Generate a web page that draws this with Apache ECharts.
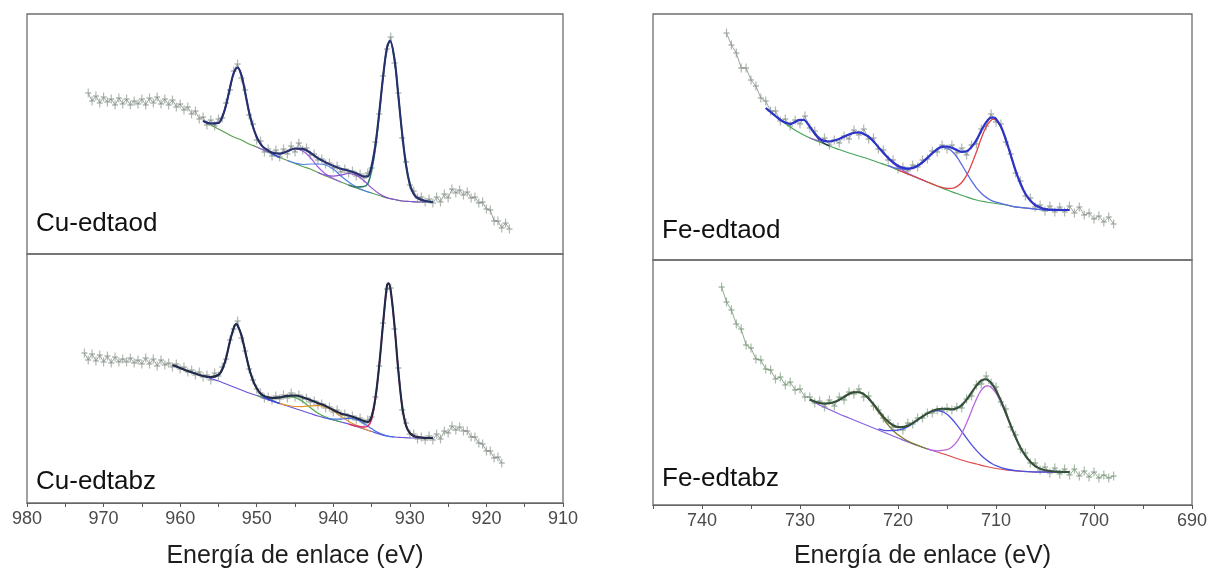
<!DOCTYPE html>
<html>
<head>
<meta charset="utf-8">
<script src="https://cdn.jsdelivr.net/npm/echarts@6/dist/echarts.min.js"></script>
<style>
  html, body { margin: 0; padding: 0; background: #fff; }
  #chart { width: 1211px; height: 574px; }
</style>
</head>
<body>
<div id="chart"></div>
<script>
// XPS spectra: Cu 2p (left) and Fe 2p (right), binding energy in eV, intensity in arbitrary units.

// ---------- Cu-edtaod ----------
const cuOdRaw = [[972,161],[971.5,153],[971,158],[970.5,151],[970,157],[969.5,152],[969,155],[968.5,149],[968,156],[967.5,150],[967,155],[966.5,149],[966,153],[965.5,150],[965,155],[964.5,149],[964,156],[963.5,151],[963,157],[962.5,150],[962,155],[961.5,149],[961,154],[960.5,147],[960,150],[959.5,144],[959,147],[958.5,140],[958,143],[957.5,135],[957,137],[956.5,129],[956,134],[955.5,128],[955,135],[954.5,136],[954,151],[953.5,164],[953,183],[952.5,190],[952,176],[951.5,164],[951,139],[950.5,130],[950,114],[949.5,113],[949,102],[948.5,105],[948,98],[947.5,104],[947,97],[946.5,105],[946,100],[945.5,108],[945,102],[944.5,111],[944,104],[943.5,106],[943,99],[942.5,100],[942,94],[941.5,95],[941,90],[940.5,91],[940,86],[939.5,88],[939,82],[938.5,85],[938,81],[937.5,83],[937,78],[936.5,80],[936,76],[935.5,81],[935,86],[934.5,112],[934,140],[933.5,178],[933,205],[932.5,217],[932,191],[931.5,161],[931,116],[930.5,92],[930,69],[929.5,63],[929,56],[928.5,57],[928,52],[927.5,55],[927,51],[926.5,57],[926,52],[925.5,60],[925,56],[924.5,65],[924,61],[923.5,64],[923,59],[922.5,62],[922,56],[921.5,57],[921,51],[920.5,52],[920,45],[919.5,44],[919,33],[918.5,33],[918,26],[917.5,31],[917,25]];
const cuOdBg = [[957,133],[956,129],[955,125],[954,121],[953,117],[952,114],[951,110],[950,107],[949,103.5],[948,100],[947,96.5],[946,93.5],[945,90.5],[944,87.5],[943,85],[942,81.5],[941,78],[940,75],[939,72],[938,69],[937,66],[936,63.5],[935,61],[934,58.5],[933,56],[932,54.5],[931,53],[930,52.5],[929,52],[928,52],[927,52]];
const cuOdP1 = [[957,133],[956,130.5],[955,131],[954.5,137],[954,149],[953.5,166],[953,181],[952.5,186.5],[952,179],[951.5,161],[951,142],[950.5,127.5],[950,117],[949.5,110],[949,106],[948,100.5],[947,96.5]];
const cuOdSat1 = [[950,107],[949,103.7],[948,101],[947,100.5],[946,102.5],[945,105],[944,103],[943,96.5],[942,87],[941,80],[940,75.5],[939,72]];
const cuOdSat2 = [[946,93.5],[945,91],[944,89.5],[943,90],[942,90],[941,89],[940,85],[939,78],[938,72],[937,67],[936,63.5],[935,61]];
const cuOdSat3 = [[942,81.5],[941,78.8],[940,77.9],[939,78.9],[938,80.5],[937,78.9],[936,73.3],[935,66.1],[934,60.3],[933,56.4],[932,54.5],[931,53],[930,52.5],[929,52],[928,52]];
const cuOdP3 = [[938,69],[937,67],[936,67.5],[935.5,70.2],[935,83],[934.5,105.8],[934,139.5],[933.5,176.2],[933,205.5],[932.6,213],[932,194.5],[931.5,157.8],[931,120],[930.5,88.8],[930,69.5],[929.5,60],[929,56],[928,53],[927,52]];
const cuOdFit = [[957,133],[956,130.5],[955,131],[954.5,137],[954,149],[953.5,166],[953,181],[952.5,186.5],[952,179],[951.5,161],[951,142],[950.5,127.5],[950,117],[949.5,110],[949,106],[948,101.5],[947,100.4],[946,102.8],[945,105.5],[944,105.1],[943,101.3],[942,95.8],[941,91.6],[940,88.1],[939,85.2],[938,83.3],[937,80.8],[936,77.5],[935.5,77.6],[935,88.1],[934.5,109],[934,141.3],[933.5,177.1],[933,205.9],[932.6,213.2],[932,194.5],[931.5,157.8],[931,120],[930.5,88.8],[930,69.5],[929.5,60],[929,56],[928,53],[927,52]];

// ---------- Cu-edtabz ----------
const cuBzRaw = [[972.5,150],[972,143],[971.5,149],[971,142],[970.5,148],[970,141],[969.5,147],[969,140],[968.5,146],[968,141],[967.5,144],[967,141],[966.5,145],[966,140],[965.5,143],[965,139],[964.5,145],[964,139],[963.5,144],[963,137],[962.5,143],[962,138],[961.5,140],[961,136],[960.5,139],[960,134],[959.5,136],[959,131],[958.5,133],[958,128],[957.5,131],[957,126],[956.5,128],[956,123],[955.5,130],[955,127],[954.5,136],[954,144],[953.5,163],[953,174],[952.5,182],[952,165],[951.5,152],[951,134],[950.5,123],[950,114],[949.5,110],[949,105],[948.5,106],[948,103],[947.5,107],[947,104],[946.5,108],[946,105],[945.5,110],[945,106],[944.5,108],[944,104],[943.5,105],[943,101],[942.5,102],[942,98],[941.5,99],[941,95],[940.5,96],[940,91],[939.5,93],[939,88],[938.5,89],[938,85],[937.5,87],[937,83],[936.5,85],[936,80],[935.5,83],[935,86],[934.5,106],[934,137],[933.5,180],[933,214],[932.5,215],[932,174],[931.5,135],[931,93],[930.5,80],[930,69],[929.5,69],[929,64],[928.5,66],[928,63],[927.5,67],[927,63],[926.5,69],[926,64],[925.5,72],[925,70],[924.5,77],[924,73],[923.5,76],[923,72],[922.5,72],[922,66],[921.5,66],[921,60],[920.5,59],[920,52],[919.5,52],[919,45],[918.5,46],[918,40]];
const cuBzBg = [[961,138],[960,135],[959,132],[958,129.5],[957,127],[956,124.5],[955,122],[954,119],[953,116],[952,113],[951,110],[950,107.5],[949,104.5],[948,102],[947,99.5],[946,97],[945,94.5],[944,92],[943,89.5],[942,87],[941,85],[940,83],[939,81],[938,79],[937,76.5],[936,74],[935,71.5],[934,69],[933,67],[932,66],[931,65.5],[930,65],[929,65],[928,65],[927,65]];
const cuBzP1 = [[957,127],[956,126],[955,128],[954.5,133.5],[954,145],[953.5,161.5],[953,175],[952.7,179],[952.5,177.5],[952,168],[951.5,151.5],[951,135],[950.5,122.8],[950,114.5],[949.5,109],[949,106],[948,102.3],[947,99.5]];
const cuBzSatA = [[950,107.7],[949,105.4],[948,104.7],[947,105.4],[946,106.4],[945,105.5],[944,101.4],[943,95.4],[942,89.7],[941,85.9],[940,83.2],[939,81]];
const cuBzSatB = [[947,99.7],[946,97.7],[945,96.5],[944,96.4],[943,97.2],[942,97.3],[941,95.9],[940,91.9],[939,86.7],[938,81.8],[937,77.6],[936,74.3],[935,71.5]];
const cuBzSatC = [[941,85.2],[940,83.9],[939,83.9],[938,84.6],[937,83.5],[936,79.6],[935,74.4],[934,69.9],[933,67.2],[932,66]];
const cuBzP3 = [[938,79],[937,77],[936,76],[935.5,76.8],[935,83.5],[934.5,103.3],[934,137],[933.5,179],[933,217],[932.8,219.8],[932.5,212.3],[932,177],[931.5,131.8],[931,96.5],[930.5,77.3],[930,70],[929.5,67],[929,66],[928,65]];
const cuBzFit = [[961,138],[960,135],[959,132],[958,129.5],[957,127],[956,126],[955,128],[954.5,133.5],[954,145],[953.5,161.5],[953,175],[952.7,179],[952.5,177.5],[952,168],[951.5,151.5],[951,135],[950.5,122.8],[950,114.7],[949.5,109.4],[949,106.9],[948,105],[947,105.6],[946,107.1],[945,107.5],[944,105.8],[943,103.1],[942,100],[941,97],[940,93],[939,89.6],[938,87.4],[937,85.1],[936,81.9],[935.5,81],[935,86.4],[934.5,105.1],[934,137.9],[933.5,179.4],[933,217.2],[932.8,219.8],[932.5,212.3],[932,177],[931.5,131.8],[931,96.5],[930.5,77.3],[930,70],[929.5,67],[929,66],[928,65],[927,65]];

// ---------- Fe-edtaod ----------
const feOdRaw = [[737.5,227],[737,215],[736.5,207],[736,192],[735.5,192],[735,180],[734.5,174],[734,162],[733.5,159],[733,149],[732.5,149],[732,139],[731.5,141],[731,134],[730.5,140],[730,136],[729.5,144],[729,132],[728.5,129],[728,119],[727.5,122],[727,115],[726.5,120],[726,117],[725.5,124],[725,121],[724.5,130],[724,125],[723.5,131],[723,121],[722.5,122],[722,111],[721.5,110],[721,100],[720.5,100],[720,91],[719.5,93],[719,89],[718.5,95],[718,93],[717.5,100],[717,101],[716.5,109],[716,108],[715.5,115],[715,111],[714.5,115],[714,107],[713.5,112],[713,105],[712.5,115],[712,116],[711.5,131],[711,134],[710.5,146],[710,138],[709.5,136],[709,118],[708.5,106],[708,87],[707.5,79],[707,64],[706.5,62],[706,53],[705.5,55],[705,49],[704.5,54],[704,48],[703.5,53],[703,48],[702.5,54],[702,47],[701.5,53],[701,45],[700.5,47],[700,41],[699.5,44],[699,38],[698.5,43],[698,36]];
const feOdBg = [[733.5,152],[733,148],[732,140],[731,133],[730,127],[729,122],[728,118],[727,114],[726,110.5],[725,107],[724,104],[723,101],[722,97.5],[721,94],[720,90],[719,86],[718,82],[717,78],[716,74],[715,70],[714,66.5],[713,63],[712,60],[711,58],[710,56.5],[709,55],[708,53],[707,52],[706,51],[705,50],[704,50],[703,50],[702.5,50]];
const feOdA = [[733,148],[732,140.2],[731.5,137.4],[731,136.2],[730.5,138],[730,140.2],[729.6,140],[729,133.3],[728.5,125.8],[728,120],[727.5,116.5],[727,114]];
const feOdB = [[729,122],[728,119.4],[727,118.5],[726,121.1],[725.5,123.4],[725,125.5],[724.5,127.2],[724,127.7],[723.7,127],[723,123.3],[722.5,118.5],[722,112.9],[721.5,107.2],[721,101.8],[720.5,96.9],[720,92.9],[719,86.8],[718,82.2],[717,78]];
const feOdC = [[721,94.3],[720,91.3],[719,90.6],[718.5,91.7],[718,94.1],[717.5,97.7],[717,102.1],[716.5,106.7],[716,110.6],[715.5,112.6],[715,112],[714.5,108.8],[714,103.1],[713.5,95.4],[713,87.1],[712.5,79.2],[712,72.1],[711.5,66.7],[711,62.6],[710.5,59.7],[710,57.8],[709,55.3],[708,53],[707,52],[706,51],[705,50],[704,50],[703,50]];
const feOdD = [[720,90],[719,86],[718,82],[717,78],[716,74],[715,71.5],[714.5,71.6],[714,73.4],[713.5,77.5],[713,84.6],[712.5,95.3],[712,107.9],[711.5,121.7],[711,133.2],[710.5,139.8],[710.2,140.8],[710,139.9],[709.5,132.9],[709,120.4],[708.5,105],[708,89.4],[707.5,76.3],[707,66.2],[706.5,59.4],[706,55],[705.5,52.4],[705,50.8],[704,50.1],[703,50]];
const feOdFit = [[733.5,152],[733,148],[732.5,144],[732,140.2],[731.5,137.5],[731,136.2],[730.5,138],[730,140.2],[729.6,140],[729,133.3],[728.5,126.5],[728,121.4],[727.5,119.1],[727,118.5],[726.5,119.5],[726,121.1],[725.5,123.4],[725,125.5],[724.5,127.2],[724,127.7],[723.7,127],[723,123.3],[722.5,118.5],[722,112.9],[721.5,107.2],[721,102.1],[720.5,97.6],[720,94.2],[719.5,92.1],[719,91.4],[718.5,92.1],[718,94.3],[717.5,97.7],[717,102.1],[716.5,106.7],[716,110.9],[715.5,113.3],[715,113.5],[714.5,112.2],[714,110],[713.5,108.2],[713,108.7],[712.5,113],[712,120],[711.5,129.4],[711,137.8],[710.5,142.3],[710.2,142.4],[710,141.2],[709.5,133.5],[709,120.7],[708.5,105],[708,89.4],[707.5,76.3],[707,66.2],[706.5,59.4],[706,55],[705.5,52.4],[705,50.8],[704,50.1],[703,50],[702.5,50]];

// ---------- Fe-edtabz ----------
const feBzRaw = [[738,218],[737.5,203],[737,195],[736.5,181],[736,176],[735.5,160],[735,157],[734.5,146],[734,145],[733.5,136],[733,135],[732.5,126],[732,128],[731.5,120],[731,123],[730.5,115],[730,116],[729.5,108],[729,108],[728.5,102],[728,104],[727.5,98],[727,105],[726.5,99],[726,108],[725.5,105],[725,113],[724.5,111],[724,116],[723.5,108],[723,109],[722.5,99],[722,95],[721.5,87],[721,85],[720.5,78],[720,78],[719.5,75],[719,82],[718.5,81],[718,87],[717.5,87],[717,92],[716.5,92],[716,95],[715.5,94],[715,97],[714.5,95],[714,98],[713.5,97],[713,106],[712.5,109],[712,120],[711.5,121],[711,129],[710.5,122],[710,118],[709.5,103],[709,96],[708.5,78],[708,70],[707.5,56],[707,52],[706.5,42],[706,42],[705.5,35],[705,38],[704.5,32],[704,37],[703.5,31],[703,36],[702.5,30],[702,36],[701.5,29],[701,34],[700.5,28],[700,33],[699.5,27],[699,30],[698.5,27],[698,29]];
const feBzBgHigh = [[729,105],[728,100],[727,95.5],[726,91],[725,87],[724,83],[723,79],[722,75],[721,71],[720,67],[719,63],[718,59.5],[717,56],[716,53]];
const feBzBgLow = [[716,53],[715,50],[714,46.5],[713,43.5],[712,41],[711,38.5],[710,36.5],[709,35],[708,34],[707,33.5],[706,33],[705,33],[704,33],[703,33],[702.5,33]];
const feBzB = [[729,105.5],[728,102],[727,101.7],[726,105.2],[725.5,108.1],[725,111],[724.5,112.8],[724,112.8],[723.8,112.2],[723.5,110.6],[723,106.2],[722.5,100.1],[722,93.2],[721.5,86.3],[721,79.9],[720.5,74.6],[720,70.2],[719,63.9],[718,59.7],[717,56]];
const feBzC = [[722,76.2],[721,74.3],[720,74.8],[719.5,76.1],[719,78.4],[718.5,81.4],[718,85],[717.5,88.4],[717,91.4],[716.5,93.6],[716,94.4],[715.6,93.8],[715,90.7],[714.5,86],[714,80.1],[713.5,73.6],[713,66.9],[712.5,60.4],[712,54.6],[711.5,49.5],[711,45.2],[710.5,41.9],[710,39.3],[709,36],[708,34.3],[707,33.5],[706,33],[705,33],[704,33],[703,33],[702.5,33]];
const feBzD = [[717,56.2],[716,54.2],[715,55.3],[714.5,58],[714,63.2],[713.5,71.3],[713,81.9],[712.5,94.1],[712,105.8],[711.5,114.8],[711,119],[710.8,119.1],[710.5,117.7],[710,111.8],[709.5,102.6],[709,91.1],[708.5,79],[708,67.3],[707.5,57.3],[707,49.3],[706.5,43.2],[706,38.9],[705.5,36.4],[705,34.8],[704,33.4],[703,33]];
const feBzFit = [[729,105.5],[728.5,103.5],[728,102],[727.5,101.3],[727,101.7],[726.5,102.9],[726,105.2],[725.5,108.2],[725,111],[724.5,112.8],[724,112.8],[723.8,112.2],[723.5,111],[723,106.6],[722.5,100.8],[722,94.4],[721.5,88.3],[721,83.2],[720.5,79.8],[720,78],[719.5,78],[719,79.3],[718.5,81.9],[718,85.2],[717.5,88.5],[717,91.6],[716.5,94.1],[716,95.6],[715.5,96.2],[715,96],[714.5,95.7],[714,96.8],[713.5,99.9],[713,105.3],[712.5,112.4],[712,119.4],[711.5,124.5],[711,125.7],[710.8,124.7],[710.5,122.1],[710,114.6],[709.5,104.3],[709,92.1],[708.5,79.6],[708,67.6],[707.5,57.3],[707,49.3],[706.5,43.2],[706,38.9],[705.5,36.4],[705,34.8],[704,33.4],[703,33],[702.5,33]];

// axis ticks and labels
const cuTickRange = [910, 980];
const feTickRange = [690, 745];
const tickStep = 5;
const labelStep = 10;
const panelNames = ['Cu-edtaod', 'Cu-edtabz', 'Fe-edtaod', 'Fe-edtabz'];
const axisTitle = 'Energía de enlace (eV)';

const FONT = '"Liberation Sans", Arial, Helvetica, sans-serif';
// "+" marker with a longer vertical arm
const CROSS = 'path://M4,0H6V6H10V8H6V14H4V8H0V6H4Z';

// panel boxes (px); each panel's intensity axis spans 0..height
const panels = [
  { left: 27,  top: 14,  width: 536, height: 240 },
  { left: 27,  top: 254, width: 536, height: 249 },
  { left: 653, top: 14,  width: 539, height: 246 },
  { left: 653, top: 260, width: 539, height: 245 }
];

const chart = echarts.init(document.getElementById('chart'), null, { renderer: 'canvas' });

function xAxisFor(i, range, withLabels, gap) {
  const ax = {
    gridIndex: i, type: 'value', min: range[0], max: range[1], inverse: true, interval: tickStep,
    splitLine: { show: false },
    axisLine: { show: withLabels, onZero: false, lineStyle: { color: '#666', width: 1.2 } },
    axisTick: { show: withLabels, length: 4, lineStyle: { color: '#555', width: 1 } },
    axisLabel: {
      show: withLabels, margin: 7, color: '#4a4a4a', fontSize: 18, fontFamily: FONT,
      showMinLabel: true, showMaxLabel: true,
      formatter: v => (v % labelStep === 0 ? String(v) : '')
    }
  };
  if (withLabels) {
    ax.name = axisTitle;
    ax.nameLocation = 'middle';
    ax.nameGap = gap;
    ax.nameTextStyle = { fontSize: 25, color: '#1e1e1e', fontFamily: FONT };
  }
  return ax;
}

function curve(data, idx, color, width, z) {
  return {
    type: 'line', xAxisIndex: idx, yAxisIndex: idx, data: data,
    smooth: 0.35, showSymbol: false, symbol: 'none', silent: true, z: z,
    lineStyle: { color: color, width: width }
  };
}

function rawPoints(data, idx, color) {
  return {
    type: 'line', xAxisIndex: idx, yAxisIndex: idx, data: data,
    symbol: CROSS, symbolSize: [6, 9], showSymbol: true, showAllSymbol: true, silent: true, z: 1,
    itemStyle: { color: color, opacity: 0.6 },
    lineStyle: { color: color, width: 1, opacity: 0.75 }
  };
}

const option = {
  animation: false,
  backgroundColor: '#ffffff',
  grid: panels.map(p => ({
    left: p.left, top: p.top, width: p.width, height: p.height,
    show: true, borderColor: '#6e6e6e', borderWidth: 1.3, backgroundColor: 'transparent'
  })),
  xAxis: [
    xAxisFor(0, cuTickRange, false),
    xAxisFor(1, cuTickRange, true, 41),
    xAxisFor(2, feTickRange, false),
    xAxisFor(3, feTickRange, true, 39)
  ],
  yAxis: panels.map((p, i) => ({ gridIndex: i, type: 'value', min: 0, max: p.height, show: false })),
  series: [
    // Cu-edtaod
    rawPoints(cuOdRaw, 0, '#7c877d'),
    curve(cuOdBg, 0, '#5aa050', 1.2, 3),
    curve(cuOdSat1, 0, '#a060e0', 1.2, 3),
    curve(cuOdSat2, 0, '#4f7fe6', 1.2, 3),
    curve(cuOdSat3, 0, '#8a50d0', 1.2, 3),
    curve(cuOdP1, 0, '#3a44d6', 1.5, 4),
    curve(cuOdP3, 0, '#2f7a6a', 1.5, 4),
    curve(cuOdFit, 0, '#27306e', 2.1, 5),
    // Cu-edtabz
    rawPoints(cuBzRaw, 1, '#7c877d'),
    curve(cuBzBg, 1, '#6a55d8', 1.2, 3),
    curve(cuBzSatA, 1, '#4aa84a', 1.2, 3),
    curve(cuBzSatB, 1, '#e0962e', 1.2, 3),
    curve(cuBzSatC, 1, '#3f6fe0', 1.2, 3),
    curve(cuBzP1, 1, '#3a48d8', 1.5, 4),
    curve(cuBzP3, 1, '#e0306a', 1.5, 4),
    curve(cuBzFit, 1, '#202a48', 2.1, 5),
    // Fe-edtaod
    rawPoints(feOdRaw, 2, '#7c877d'),
    curve(feOdBg, 2, '#45a55a', 1.2, 3),
    curve(feOdA, 2, '#2a2f60', 1.2, 3),
    curve(feOdB, 2, '#9a5ad8', 1.2, 3),
    curve(feOdC, 2, '#5b6ae0', 1.3, 3),
    curve(feOdD, 2, '#e04545', 1.3, 4),
    curve(feOdFit, 2, '#2b33c8', 2.2, 5),
    // Fe-edtabz
    rawPoints(feBzRaw, 3, '#6d8c6d'),
    curve(feBzBgHigh, 3, '#8a62d8', 1.2, 3),
    curve(feBzBgLow, 3, '#e04848', 1.2, 3),
    curve(feBzB, 3, '#7d7a30', 1.3, 3),
    curve(feBzC, 3, '#4a52e0', 1.3, 3),
    curve(feBzD, 3, '#b866dc', 1.3, 4),
    curve(feBzFit, 3, '#34503a', 2.1, 5)
  ],
  graphic: [
    { type: 'text', left: 36,  top: 211, silent: true, style: { text: panelNames[0], font: '26px ' + FONT, fill: '#111' } },
    { type: 'text', left: 36,  top: 469, silent: true, style: { text: panelNames[1], font: '26px ' + FONT, fill: '#111' } },
    { type: 'text', left: 662, top: 218, silent: true, style: { text: panelNames[2], font: '26px ' + FONT, fill: '#111' } },
    { type: 'text', left: 662, top: 466, silent: true, style: { text: panelNames[3], font: '26px ' + FONT, fill: '#111' } }
  ]
};

chart.setOption(option);
</script>
</body>
</html>
